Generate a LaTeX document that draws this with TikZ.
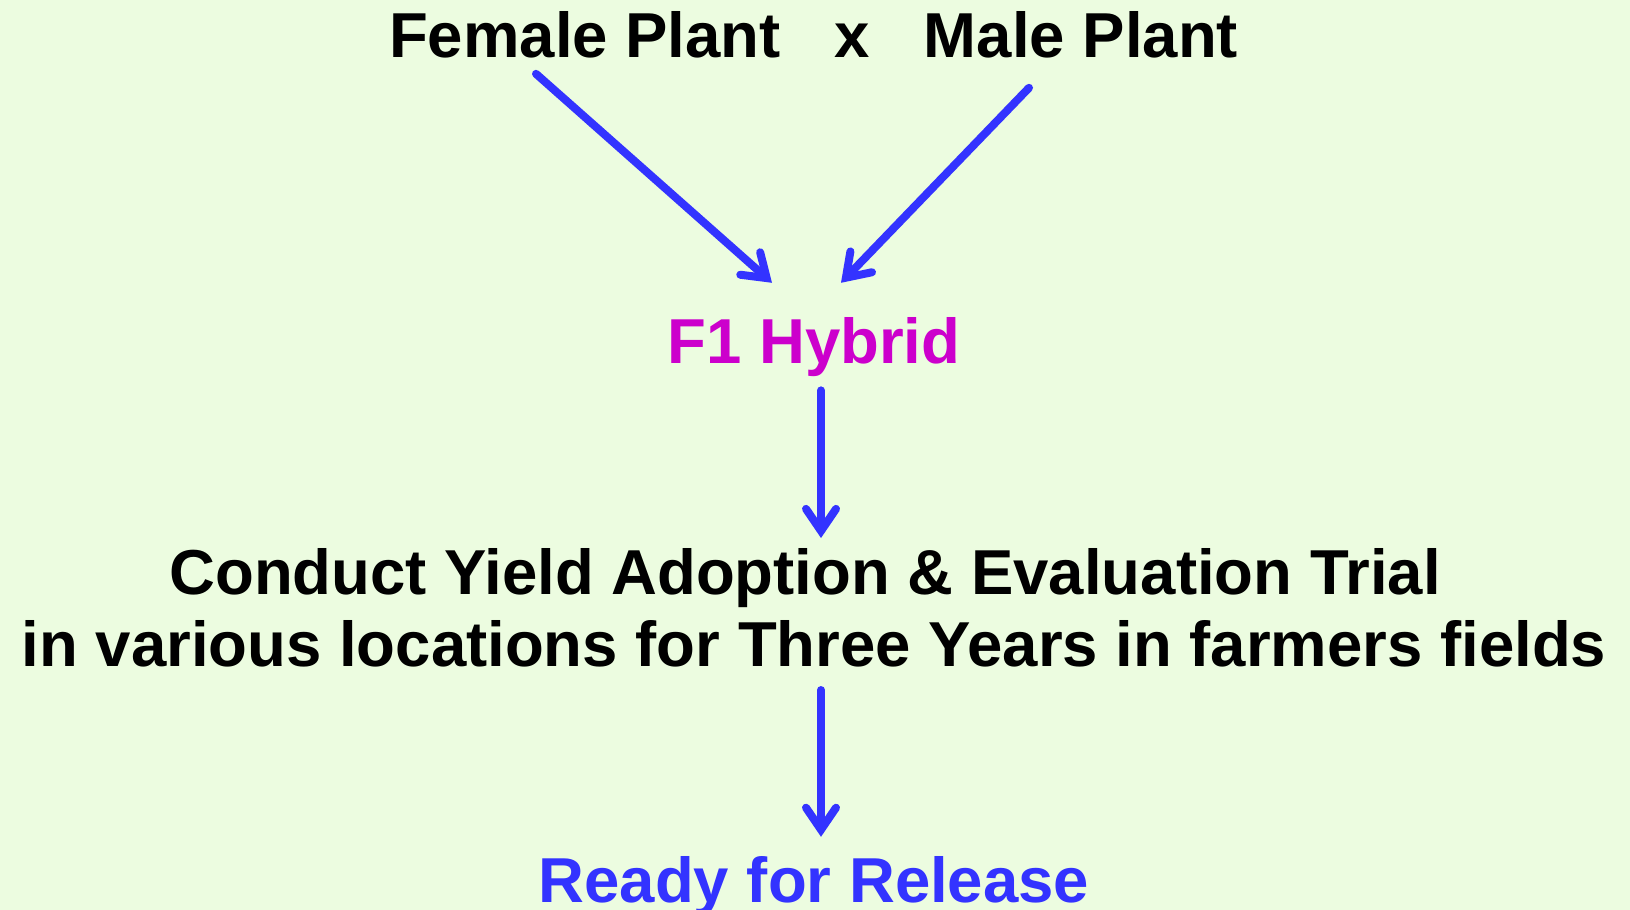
\documentclass[tikz,border=0pt]{standalone}
\usepackage{fontspec}
\setmainfont{Liberation Sans}
\usetikzlibrary{arrows.meta,calc}
\definecolor{bggreen}{HTML}{ECFCE0}
\definecolor{arrblue}{HTML}{3333FF}
\definecolor{hybmag}{HTML}{CC00CC}
\begin{document}
\begin{tikzpicture}[x=1pt,y=-1pt,
  lbl/.style={inner sep=0pt,font=\fontsize{63.5}{72}\selectfont\bfseries},
  arr/.style={draw=arrblue,line width=8pt,line cap=round,
    -{Straight Barb[length=22pt,width=30pt,line cap=round]}}]
\fill[bggreen] (0,0) rectangle (1630,910);
\useasboundingbox (0,0) rectangle (1630,910);
\node[lbl,anchor=base] (female) at (585,57) {Female Plant};
\node[lbl,anchor=base] (cross) at (852,57) {x};
\node[lbl,anchor=base] (male) at (1081,57) {Male Plant};
\node[lbl,anchor=base,text=hybmag] (f1) at (814,363) {F1 Hybrid};
\node[lbl,anchor=north,align=center] (trial) at (814,548)
  {Conduct Yield Adoption \& Evaluation Trial\hspace*{18pt}\\in various locations for Three Years in farmers fields};
\node[lbl,anchor=base,text=arrblue] (ready) at (814,902) {Ready for Release};
\draw[arr] ($(female.south)+(-49,16)$) -- ($(f1.north)+(-42,-34)$);
\draw[arr] ($(male.south)+(-52,30)$) -- ($(f1.north)+(27,-34)$);
\draw[arr] ($(f1.south)+(7,14)$) -- ($(trial.north)+(7,-10)$);
\draw[arr] ($(trial.south)+(7,23)$) -- ($(ready.north)+(7,-19)$);
\end{tikzpicture}
\end{document}
